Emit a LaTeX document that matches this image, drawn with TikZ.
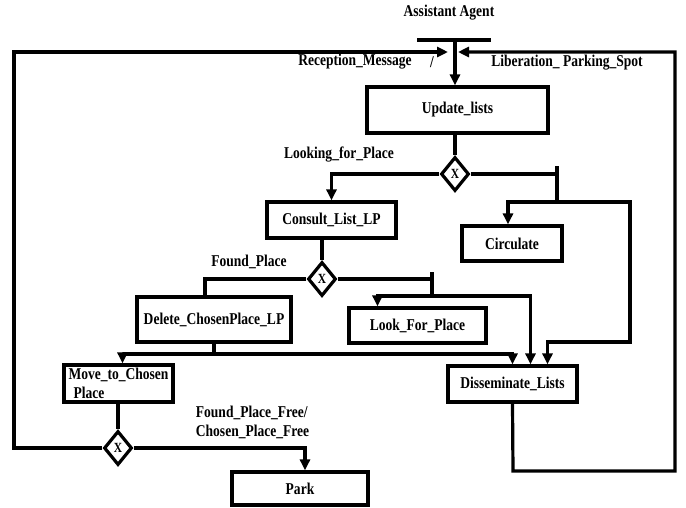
\documentclass[tikz,border=0pt]{standalone}
\usepackage{fontspec}
\setmainfont{Liberation Serif}[FakeStretch=0.82]
\usetikzlibrary{arrows.meta,shapes.geometric}
\begin{document}
\begin{tikzpicture}[x=1pt,y=-1pt,
  line width=3.2pt,
  every node/.style={font=\bfseries\fontsize{16.5}{19}\selectfont},
  box/.style={draw,rectangle,inner sep=2pt},
  gate/.style={draw,diamond,minimum width=28pt,minimum height=34pt,inner sep=0pt,font=\bfseries\fontsize{14}{14}\selectfont},
  flow/.style={-{Triangle[length=11pt,width=10pt]}}]
\useasboundingbox (0,0) rectangle (686,507);
\node (title) at (449,13) {Assistant Agent};
\draw (417,40) -- (491,40);
\coordinate (bar) at (455,40);
\coordinate (inL) at (448,52);
\coordinate (inR) at (458,52);
\node[box,minimum width=181pt,minimum height=46pt] (upd) at (457.5,110) {Update\_lists};
\node[gate] (d1) at (455,174) {X};
\node[box,minimum width=129pt,minimum height=36pt] (consult) at (331.5,220) {Consult\_List\_LP};
\node[box,minimum width=100pt,minimum height=35pt] (circ) at (512,243.5) {Circulate};
\node[gate] (d2) at (322,279) {X};
\node[box,minimum width=154pt,minimum height=45pt] (del) at (214,319.5) {Delete\_ChosenPlace\_LP};
\node[box,minimum width=137pt,minimum height=35pt] (look) at (417.5,325.5) {Look\_For\_Place};
\node[box,minimum width=129pt,minimum height=36pt] (diss) at (512.5,384) {Disseminate\_Lists};
\node[box,minimum width=109pt,minimum height=37pt,inner sep=1pt,align=left] (move) at (118.5,383.5) {Move\_to\_Chosen\\\hspace*{5pt}Place};
\node[gate] (d3) at (118,448) {X};
\node[box,minimum width=136pt,minimum height=33pt] (park) at (300,488.5) {Park};
\node (lrec) at (355,62) {Reception\_Message};
\node (lslash) at (432,62) {/};
\node (llib) at (567,63) {Liberation\_ Parking\_Spot};
\node (llook) at (339,155) {Looking\_for\_Place};
\node (lfound) at (249,262) {Found\_Place};
\node[anchor=west,align=left] (lfree) at (191,422) {Found\_Place\_Free/\\Chosen\_Place\_Free};
\coordinate (j1) at (557,202);
\coordinate (j2) at (432,296);
\coordinate (j3) at (214,354);
\draw[flow] (bar) -- (upd.north -| bar);
\draw (upd.south -| bar) -- (d1.north);
\draw[flow] (d1.west) -| (consult.north);
\draw (d1.east) -- (d1.east -| j1);
\draw (557,166) -- (j1);
\draw[flow] (j1) -| ([xshift=-4pt]circ.north);
\draw[flow] (j1) -- (630,202) -- (630,342) -| ([xshift=35pt]diss.north);
\draw (d2.north |- consult.south) -- (d2.north);
\draw (d2.west) -| ([xshift=-9pt]del.north);
\draw (d2.east) -- (d2.east -| j2);
\draw (432,272) -- (j2);
\draw[flow] (j2) -| ([xshift=-40pt]look.north);
\draw[flow] (j2) -| ([xshift=18pt]diss.north);
\draw (del.south) -- (j3);
\draw[flow] (j3) -| ([xshift=4pt]move.north);
\draw[flow] (j3) -| (diss.north);
\draw (move.south -| d3) -- (d3.north);
\draw[flow] (d3.east) -| ([xshift=5pt]park.north);
\draw[flow] (d3.west) -- (14,448) -- (14,52) -- (inL);
\draw[flow] (diss.south) -- (513,471) -- (675,471) -- (675,52) -- (inR);
\end{tikzpicture}
\end{document}
